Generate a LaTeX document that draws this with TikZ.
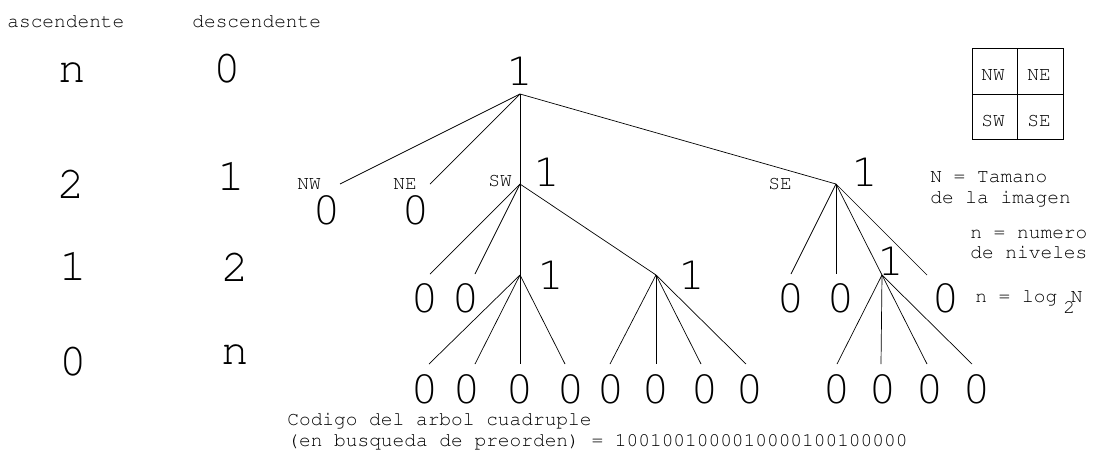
\documentclass[tikz,border=0pt]{standalone}
\usepackage[T1]{fontenc}
\usepackage{fontspec}
\usepackage{tikz}
\usetikzlibrary{positioning}
\newfontfamily\digfont{DejaVu Sans ExtraLight}
\newcommand\courfont{\fontencoding{T1}\fontfamily{pcr}\selectfont}

\begin{document}
\begin{tikzpicture}[x=1pt, y=-1pt, line width=0.7pt,
  dig/.style={font=\digfont\fontsize{39}{39}\selectfont, inner sep=0pt},
  big/.style={font=\courfont\fontsize{46}{46}\selectfont, inner sep=0pt},
  txt/.style={font=\courfont\fontsize{19.5}{20}\selectfont, inner sep=0pt},
  lbl/.style={txt, anchor=base west}]

  \useasboundingbox (0,0) rectangle (1095,451);

  % levels, counted both ways
  \node[lbl] (asc) at (7,27) {ascendente};
  \node[lbl] (desc) at (192,27) {descendente};
  \foreach \a/\xa/\ya/\d/\xd/\yd [count=\i] in
      {n/72/72/0/227/68, 2/71/184/1/231/176, 1/73/266/2/235/267, 0/73/361/n/235/354} {
    \node[big] (a\i) at (\xa,\ya) {\a};
    \node[big] (d\i) at (\xd,\yd) {\d};
  }

  % root and first level
  \coordinate (r) at (520,94);
  \node[dig] (r1) at (520,71) {1};
  \coordinate (nw) at (340,184);
  \coordinate (ne) at (430,184);
  \coordinate (sw) at (520,184);
  \coordinate (se) at (836,184);
  \foreach \c in {nw,ne,sw,se}
    \draw (r) -- (\c);
  \node[txt] (nwl) at (309,184) {NW};
  \node[txt] (nel) at (405,184) {NE};
  \node[txt] (swl) at (500,181) {SW};
  \node[txt] (sel) at (780,184) {SE};
  \node[dig] (nw0) at (327,210) {0};
  \node[dig] (ne0) at (416,210) {0};
  \node[dig] (sw1) at (547,172) {1};
  \node[dig] (se1) at (865,172) {1};

  % second level
  \coordinate (swa) at (430,274);
  \coordinate (swb) at (475,274);
  \coordinate (sws) at (520,275);
  \coordinate (swe) at (656,275);
  \coordinate (sea) at (791,274);
  \coordinate (seb) at (836,274);
  \coordinate (ses) at (882,275);
  \coordinate (sed) at (927,275);
  \foreach \c in {swa,swb,sws,swe}
    \draw (sw) -- (\c);
  \foreach \c in {sea,seb,ses,sed}
    \draw (se) -- (\c);
  \node[dig] (swa0) at (425,298) {0};
  \node[dig] (swb0) at (466,298) {0};
  \node[dig] (sws1) at (551,275) {1};
  \node[dig] (swe1) at (692,275) {1};
  \node[dig] (sea0) at (791,298) {0};
  \node[dig] (seb0) at (841,298) {0};
  \node[dig] (ses1) at (891,261) {1};
  \node[dig] (sed0) at (946,298) {0};

  % third level, all leaves
  \foreach \p/\e/\z [count=\k] in {sws/429/425, sws/475/467, sws/520/520, sws/565/571,
      swe/610/611, swe/656/656, swe/701/705, swe/746/750,
      ses/837/837, ses/881/883, ses/927/930, ses/972/977} {
    \coordinate (h\k) at (\e,364);
    \node[dig] (z\k) at (\z,389) {0};
    \draw (\p) -- (h\k);
  }

  % quadrant key
  \draw (972,48) rectangle (1063,139) (1017,48) -- (1017,139) (972,94) -- (1063,94);
  \node[txt] (qnw) at (993,75) {NW};
  \node[txt] (qne) at (1039,75) {NE};
  \node[txt] (qsw) at (993,121) {SW};
  \node[txt] (qse) at (1039,121) {SE};

  \node[lbl] (tam) at (930,182) {N = Tamano};
  \node[lbl] (img) at (930,203) {de la imagen};
  \node[lbl] (num) at (970,238) {n = numero};
  \node[lbl] (niv) at (970,258) {de niveles};
  \node[lbl] (log) at (975,302) {n = log\kern6pt\raisebox{-11pt}{2}\kern-4pt N};

  \node[lbl] (cod) at (287,425) {Codigo del arbol cuadruple};
  \node[lbl] (pre) at (287,446) {(en busqueda de preorden) = 1001001000010000100100000};
\end{tikzpicture}
\end{document}
